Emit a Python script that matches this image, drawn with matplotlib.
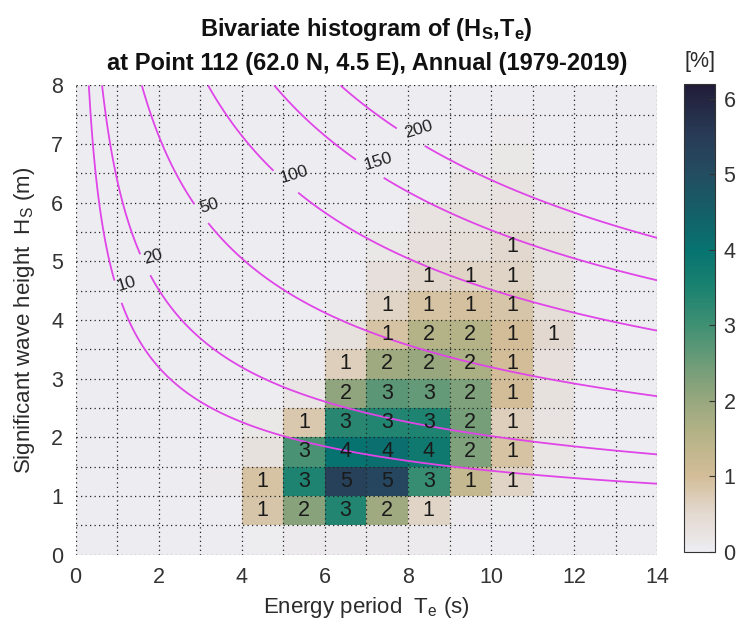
import numpy as np
import matplotlib
matplotlib.use("Agg")
import matplotlib.pyplot as plt
from matplotlib.colors import LinearSegmentedColormap

plt.rcParams['font.family'] = ['Liberation Sans', 'DejaVu Sans']
plt.rcParams['mathtext.fontset'] = 'custom'
plt.rcParams['mathtext.rm'] = 'Liberation Sans'
plt.rcParams['mathtext.it'] = 'Liberation Sans:italic'
plt.rcParams['mathtext.bf'] = 'Liberation Sans:bold'

# bin edges
te_edges = np.arange(0, 15, 1.0)        # energy period (s)
hs_edges = np.arange(0, 8.5, 0.5)       # significant wave height (m)

# occurrence [%], rows = Hs bins from bottom, cols = Te bins from left
freq = [
    [0, 0, 0, 0, 0.03, 0.08, 0.08, 0.08, 0.08, 0, 0, 0, 0, 0],
    [0, 0, 0, 0, 0.85, 2.2, 3.4, 1.9, 0.6, 0.12, 0.05, 0, 0, 0],
    [0, 0, 0, 0.1, 0.9, 3.45, 5.35, 5.2, 3.1, 1.3, 0.6, 0.12, 0, 0],
    [0, 0, 0, 0, 0.3, 2.9, 4.0, 4.1, 3.8, 2.3, 0.9, 0.2, 0, 0],
    [0, 0, 0, 0, 0.15, 0.8, 3.3, 3.4, 3.45, 2.4, 0.7, 0.25, 0, 0],
    [0, 0, 0, 0, 0, 0.2, 2.1, 2.7, 2.6, 2.3, 1.0, 0.3, 0, 0],
    [0, 0, 0, 0, 0, 0.08, 0.7, 1.9, 2.0, 1.7, 1.0, 0.35, 0, 0],
    [0, 0, 0, 0, 0, 0, 0.3, 0.9, 1.55, 1.55, 1.0, 0.52, 0.08, 0],
    [0, 0, 0, 0, 0, 0, 0.1, 0.6, 0.9, 0.95, 0.85, 0.4, 0, 0],
    [0, 0, 0, 0, 0, 0, 0, 0.35, 0.55, 0.6, 0.6, 0.3, 0, 0],
    [0, 0, 0, 0, 0, 0, 0, 0.15, 0.35, 0.4, 0.52, 0.3, 0, 0],
    [0, 0, 0, 0, 0, 0, 0, 0, 0.25, 0.3, 0.35, 0.2, 0, 0],
    [0, 0, 0, 0, 0, 0, 0, 0, 0, 0.2, 0.25, 0.1, 0, 0],
    [0, 0, 0, 0, 0, 0, 0, 0, 0, 0.1, 0.15, 0, 0, 0],
    [0, 0, 0, 0, 0, 0, 0, 0, 0, 0, 0.08, 0, 0, 0],
    [0, 0, 0, 0, 0, 0, 0, 0, 0, 0, 0, 0, 0, 0],
]
freq = np.array(freq)

power_levels = [10, 20, 50, 100, 150, 200]   # kW/m
label_spots = [(1.1, 4.5), (1.7, 4.95), (3.0, 5.8), (5.05, 6.35), (7.1, 6.6), (8.05, 7.1)]

vmax = 6.2
anchors = [(0.0, '#ededf1'), (0.5, '#e3d9d0'), (1.0, '#d2bd98'), (1.5, '#b8b488'),
           (2.0, '#98a77e'), (2.5, '#6d9c78'), (3.0, '#3f9073'), (3.5, '#1b8270'),
           (4.0, '#077370'), (4.5, '#145f68'), (5.0, '#234d62'), (5.5, '#293c57'),
           (6.2, '#211c38')]
cmap = LinearSegmentedColormap.from_list('rainish', [(v / vmax, c) for v, c in anchors])

txt = '#2b2b2b'
fig = plt.figure(figsize=(7.41, 6.33), dpi=100)
ax = fig.add_axes([0.102, 0.124, 0.785, 0.741])
cax = fig.add_axes([0.923, 0.128, 0.042, 0.74])

mesh = ax.pcolormesh(te_edges, hs_edges, freq, cmap=cmap, vmin=0, vmax=vmax, zorder=1)

# cell labels
for r in range(freq.shape[0]):
    for c in range(freq.shape[1]):
        n = int(np.floor(freq[r, c] + 0.5))
        if n >= 1:
            ax.text(c + 0.5, r * 0.5 + 0.25, str(n), ha='center', va='center',
                    fontsize=15.5, color='#1a1a1a', zorder=4)

# dotted grid
for x in te_edges:
    ax.axvline(x, color='#222222', lw=0.9, ls=(0, (1, 2.6)), zorder=2)
for y in hs_edges:
    ax.axhline(y, color='#222222', lw=0.9, ls=(0, (1, 2.6)), zorder=2)

# wave power contours P = 0.49 Hs^2 Te
tt, hh = np.meshgrid(np.linspace(0.01, 14, 600), np.linspace(0, 8, 400))
pw = 0.49 * hh ** 2 * tt
cs = ax.contour(tt, hh, pw, levels=power_levels, colors='#e045e8', linewidths=1.3, zorder=3)
lbls = ax.clabel(cs, fmt='%d', fontsize=12.5, colors='#222222', manual=label_spots, inline=True,
                 inline_spacing=2)
for t in lbls:
    t.set_rotation(17)
    px, py = t.get_position()
    t.set_position((px + 0.2, py + 0.13))

ax.set_xlim(0, 14)
ax.set_ylim(0, 8)
ax.set_xticks(np.arange(0, 15, 2))
ax.set_yticks(np.arange(0, 9, 1))
ax.tick_params(length=0, labelsize=15.5, colors='#333333')
ax.tick_params(axis='x', pad=9)
ax.tick_params(axis='y', pad=9)
for s in ax.spines.values():
    s.set_visible(False)

ax.set_xlabel(r'Energy period  $\mathregular{T_e}$ (s)', fontsize=16, color=txt)
ax.xaxis.label.set_va('baseline')
ax.xaxis.set_label_coords(0.5, -0.125)
ax.set_ylabel(r'Significant wave height  $\mathregular{H_S}$ (m)', fontsize=16, color=txt)
ax.yaxis.label.set_va('baseline')
ax.yaxis.set_label_coords(-0.078, 0.5)

fig.text(0.495, 1 - 36 / 633, r'Bivariate histogram of ($\mathregular{H_S}$,$\mathregular{T_e}$)',
         ha='center', va='baseline', fontsize=17, fontweight='bold', color='#111111')
fig.text(0.495, 1 - 70 / 633, 'at Point 112 (62.0 N, 4.5 E), Annual (1979-2019)',
         ha='center', va='baseline', fontsize=17, fontweight='bold', color='#111111')

cb = fig.colorbar(mesh, cax=cax, ticks=range(0, 7))
cb.ax.tick_params(direction='in', length=4, labelsize=15.5, colors='#333333', pad=6)
cb.outline.set_edgecolor('#333333')
cb.outline.set_linewidth(0.8)
fig.text(0.944, 1 - 62 / 633, '[%]', ha='center', va='center', fontsize=15.5, color=txt)

fig.savefig('out.png', dpi=100)
